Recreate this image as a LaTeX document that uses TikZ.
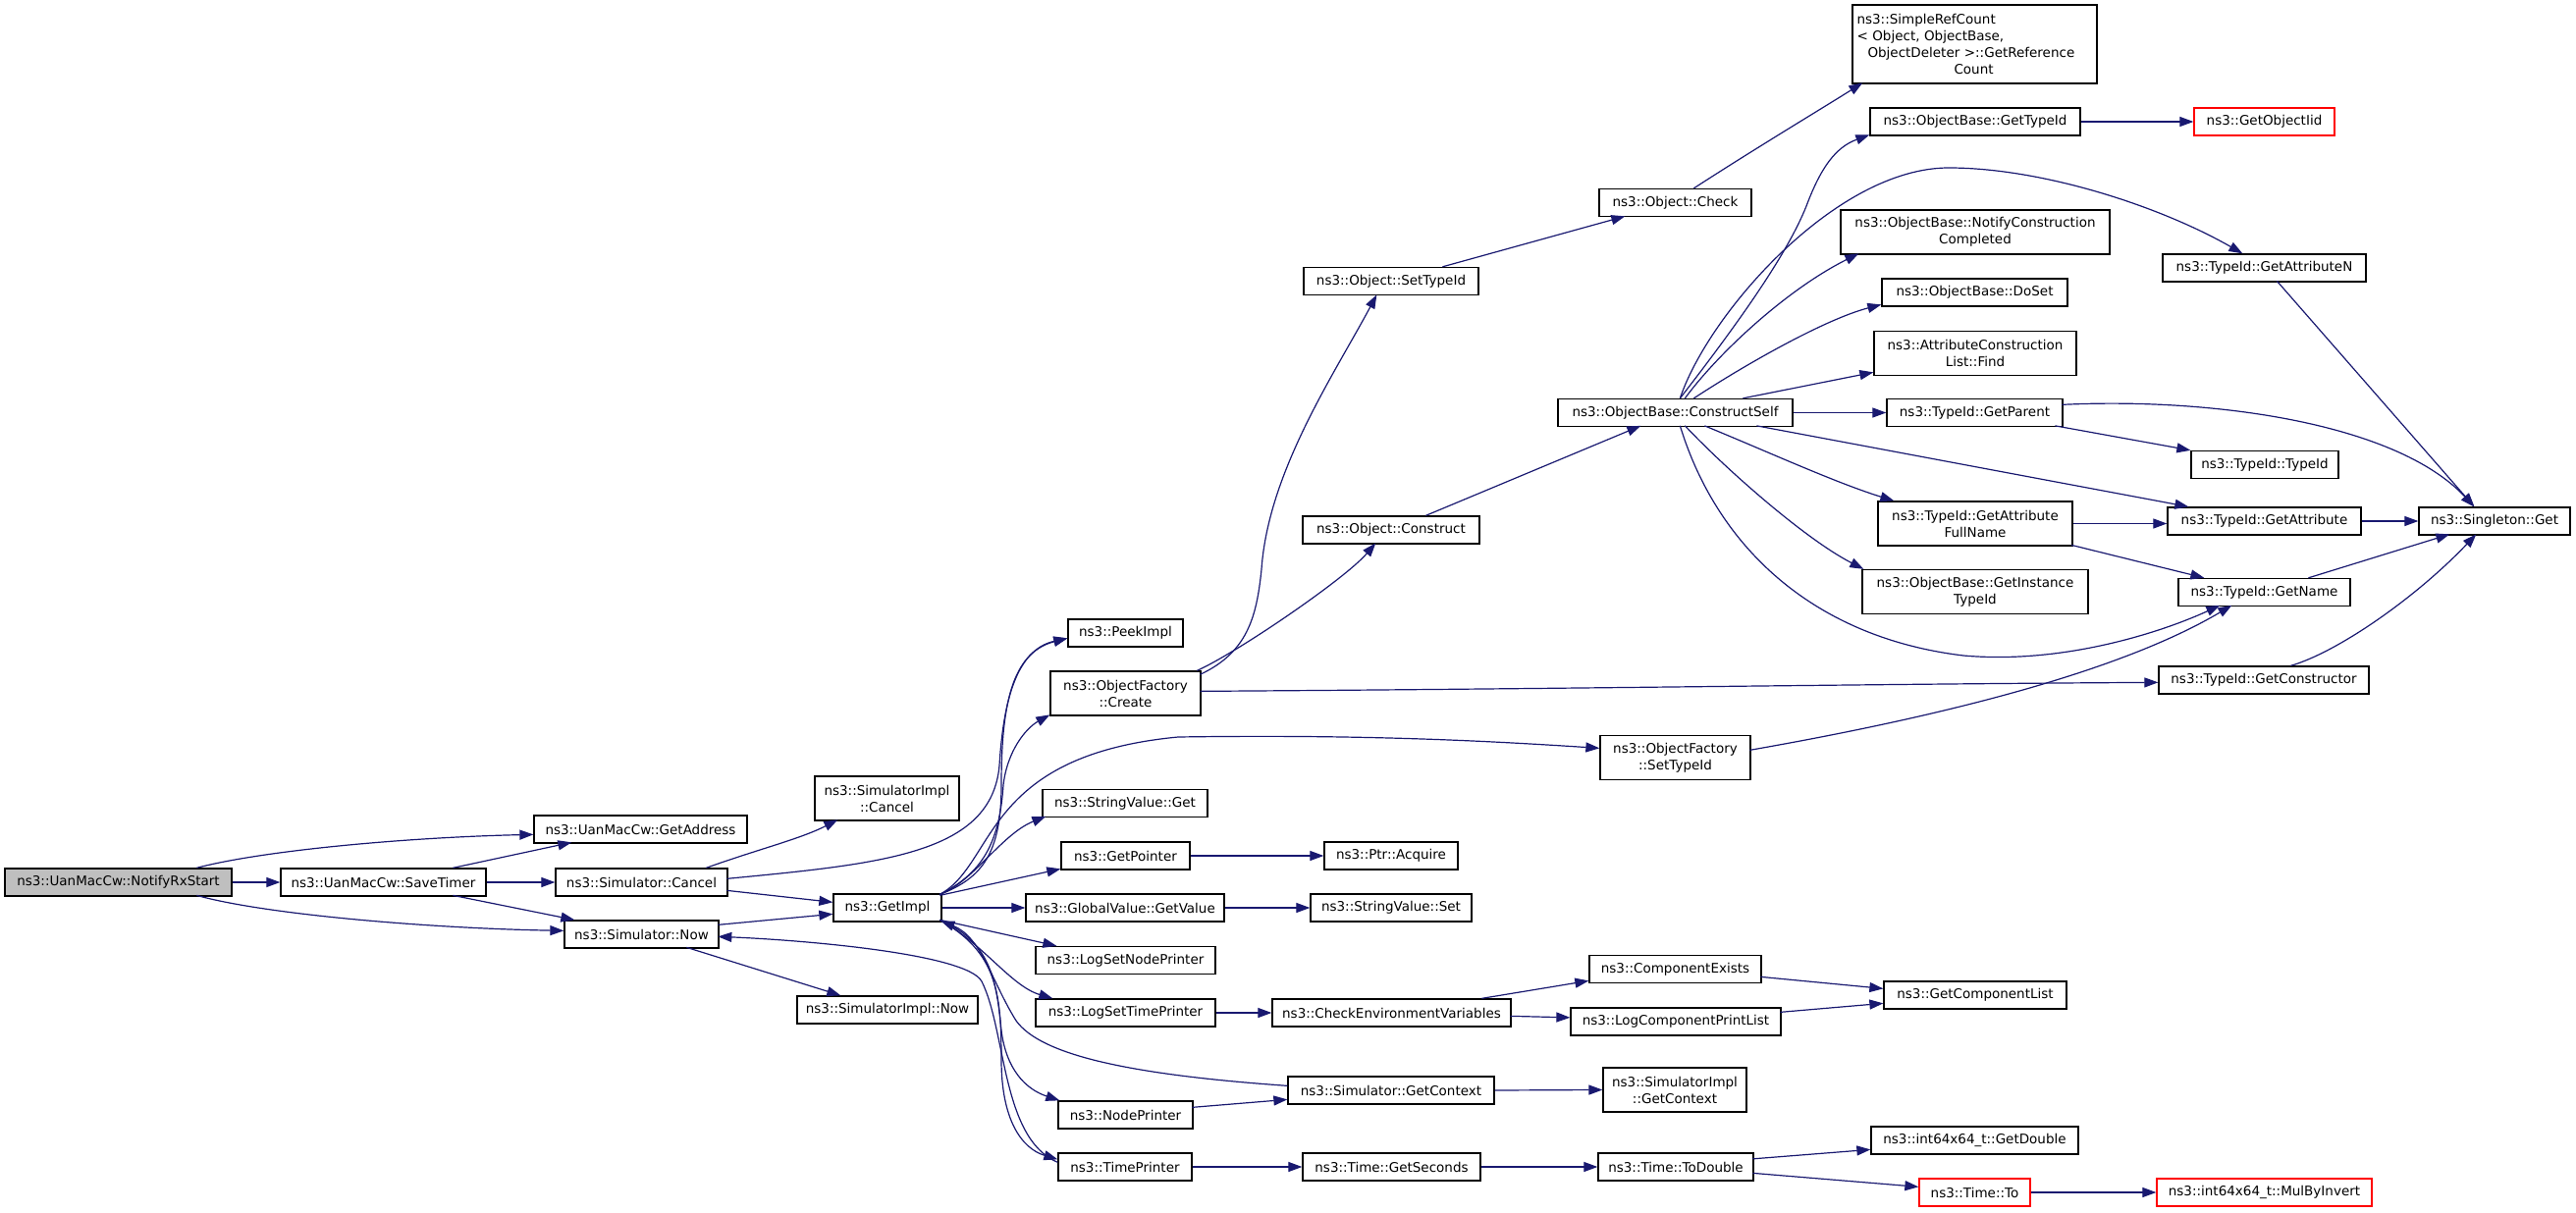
\documentclass[tikz,border=0pt]{standalone}
\usepackage{fontspec}
\setmainfont{DejaVu Sans}
\usetikzlibrary{arrows.meta}
\definecolor{edgec}{RGB}{25,25,112}
\definecolor{rootfill}{RGB}{191,191,191}
\newcommand\dxfont{\fontsize{13.5}{17}\selectfont}
\tikzset{
  box/.style={draw=black, fill=white, line width=1.3pt, inner sep=0pt, align=center, font=\dxfont},
  redbox/.style={box, draw=red},
  edge/.style={draw=edgec, line width=1.2pt, -{Triangle[length=14pt,width=10pt]}},
}
\begin{document}
\begin{tikzpicture}[x=1pt,y=-1pt]
\useasboundingbox (0,0) rectangle (2624,1236);
% nodes
\node[box, fill=rootfill, minimum width=231pt, minimum height=28pt] (NRX) at (120.5,899) {ns3::UanMacCw::NotifyRxStart};
\node[box, minimum width=217pt, minimum height=28pt] (GA) at (652.5,845) {ns3::UanMacCw::GetAddress};
\node[box, minimum width=209pt, minimum height=28pt] (ST) at (390.5,899) {ns3::UanMacCw::SaveTimer};
\node[box, minimum width=175pt, minimum height=28pt] (SC) at (653.5,899) {ns3::Simulator::Cancel};
\node[box, minimum width=157pt, minimum height=28pt] (SN) at (653.5,952) {ns3::Simulator::Now};
\node[box, minimum width=147pt, minimum height=45pt] (SIC) at (903.5,813.5) {ns3::SimulatorImpl\\::Cancel};
\node[box, minimum width=110pt, minimum height=28pt] (GI) at (904,925) {ns3::GetImpl};
\node[box, minimum width=184pt, minimum height=28pt] (SIN) at (904,1029) {ns3::SimulatorImpl::Now};
\node[box, minimum width=117pt, minimum height=28pt] (PI) at (1146.5,645) {ns3::PeekImpl};
\node[box, minimum width=153pt, minimum height=45pt] (OFC) at (1146.5,706.5) {ns3::ObjectFactory\\::Create};
\node[box, minimum width=168pt, minimum height=28pt] (SVG) at (1146,818.5) {ns3::StringValue::Get};
\node[box, minimum width=131pt, minimum height=28pt] (GP) at (1146.5,872) {ns3::GetPointer};
\node[box, minimum width=202pt, minimum height=28pt] (GV) at (1146,925) {ns3::GlobalValue::GetValue};
\node[box, minimum width=183pt, minimum height=28pt] (LNP) at (1146.5,978.5) {ns3::LogSetNodePrinter};
\node[box, minimum width=183pt, minimum height=28pt] (LTP) at (1146.5,1032) {ns3::LogSetTimePrinter};
\node[box, minimum width=137pt, minimum height=28pt] (NP) at (1146.5,1136) {ns3::NodePrinter};
\node[box, minimum width=136pt, minimum height=28pt] (TP) at (1146,1189) {ns3::TimePrinter};
\node[box, minimum width=178pt, minimum height=28pt] (OST) at (1417,286.5) {ns3::Object::SetTypeId};
\node[box, minimum width=180pt, minimum height=28pt] (OCo) at (1417,540) {ns3::Object::Construct};
\node[box, minimum width=153pt, minimum height=45pt] (OFS) at (1706.5,772) {ns3::ObjectFactory\\::SetTypeId};
\node[box, minimum width=136pt, minimum height=28pt] (PA) at (1417,872) {ns3::Ptr::Acquire};
\node[box, minimum width=164pt, minimum height=28pt] (SVS) at (1417,925) {ns3::StringValue::Set};
\node[box, minimum width=243pt, minimum height=28pt] (CEV) at (1417.5,1032) {ns3::CheckEnvironmentVariables};
\node[box, minimum width=210pt, minimum height=28pt] (SGC) at (1417,1111) {ns3::Simulator::GetContext};
\node[box, minimum width=181pt, minimum height=28pt] (TGS) at (1417.5,1189) {ns3::Time::GetSeconds};
\node[box, minimum width=155pt, minimum height=28pt] (OCh) at (1706.5,206.5) {ns3::Object::Check};
\node[box, minimum width=239pt, minimum height=28pt] (CS) at (1706.5,420.5) {ns3::ObjectBase::ConstructSelf};
\node[box, minimum width=175pt, minimum height=28pt] (CE) at (1706.5,987.5) {ns3::ComponentExists};
\node[box, minimum width=214pt, minimum height=28pt] (LCPL) at (1707,1041) {ns3::LogComponentPrintList};
\node[box, minimum width=146pt, minimum height=45pt] (SIGC) at (1706,1110.5) {ns3::SimulatorImpl\\::GetContext};
\node[box, minimum width=158pt, minimum height=28pt] (TTD) at (1707,1189) {ns3::Time::ToDouble};
\node[box, align=left, text width=240pt, inner xsep=4.5pt, minimum height=80pt] (SRC) at (2011.5,45) {ns3::SimpleRefCount\\{<} Object, ObjectBase,\\\hspace*{11pt}ObjectDeleter {>}::GetReference\\\hspace*{99pt}Count};
\node[box, minimum width=214pt, minimum height=28pt] (OBG) at (2012,124) {ns3::ObjectBase::GetTypeId};
\node[box, minimum width=274pt, minimum height=45pt] (NCC) at (2012,236.5) {ns3::ObjectBase::NotifyConstruction\\Completed};
\node[box, minimum width=189pt, minimum height=28pt] (DS) at (2011.5,298) {ns3::ObjectBase::DoSet};
\node[box, minimum width=206pt, minimum height=45pt] (ACL) at (2012,360) {ns3::AttributeConstruction\\List::Find};
\node[box, minimum width=179pt, minimum height=28pt] (GPa) at (2011.5,420.5) {ns3::TypeId::GetParent};
\node[box, minimum width=198pt, minimum height=45pt] (GAFN) at (2012,533.5) {ns3::TypeId::GetAttribute\\FullName};
\node[box, minimum width=230pt, minimum height=45pt] (GIT) at (2012,603) {ns3::ObjectBase::GetInstance\\TypeId};
\node[box, minimum width=186pt, minimum height=28pt] (GCL) at (2012,1014) {ns3::GetComponentList};
\node[box, minimum width=211pt, minimum height=28pt] (GD) at (2011.5,1162) {ns3::int64x64\_t::GetDouble};
\node[redbox, minimum width=113pt, minimum height=28pt] (TT) at (2011.5,1215) {ns3::Time::To};
\node[redbox, minimum width=143pt, minimum height=28pt] (GOI) at (2306.5,124) {ns3::GetObjectIid};
\node[box, minimum width=207pt, minimum height=28pt] (GAN) at (2306.5,273) {ns3::TypeId::GetAttributeN};
\node[box, minimum width=150pt, minimum height=28pt] (TTI) at (2307,473.5) {ns3::TypeId::TypeId};
\node[box, minimum width=197pt, minimum height=28pt] (GAt) at (2306.5,531) {ns3::TypeId::GetAttribute};
\node[box, minimum width=175pt, minimum height=28pt] (GN) at (2306.5,603.5) {ns3::TypeId::GetName};
\node[box, minimum width=214pt, minimum height=28pt] (GC) at (2306,693) {ns3::TypeId::GetConstructor};
\node[redbox, minimum width=219pt, minimum height=28pt] (MBI) at (2306.5,1215) {ns3::int64x64\_t::MulByInvert};
\node[box, minimum width=154pt, minimum height=28pt] (SG) at (2541,531) {ns3::Singleton::Get};
% edges
\draw[edge] ([shift={(196,0)}]NRX.north west) .. controls (270,866) and (420,853) .. ([shift={(0,20)}]GA.north west);
\draw[edge] (NRX.east) -- (ST.west);
\draw[edge] ([shift={(196,28)}]NRX.north west) .. controls (270,932) and (440,946) .. ([shift={(0,11)}]SN.north west);
\draw[edge] ([shift={(176,0)}]ST.north west) -- ([shift={(39,28)}]GA.north west);
\draw[edge] (ST.east) -- (SC.west);
\draw[edge] ([shift={(176,28)}]ST.north west) -- ([shift={(11,0)}]SN.north west);
\draw[edge] ([shift={(154,0)}]SC.north west) .. controls (770,866) and (815,855) .. ([shift={(24,45)}]SIC.north west);
\draw[edge] ([shift={(175,23)}]SC.north west) -- ([shift={(0,9)}]GI.north west);
\draw[edge] ([shift={(175,11)}]SC.north west) .. controls (900,880) and (1010,870) .. (1018,780) .. controls (1022,715) and (1035,662) .. ([shift={(0,20)}]PI.north west);
\draw[edge] ([shift={(109,1)}]GI.north west) .. controls (1000,895) and (1020,870) .. (1020,800) .. controls (1020,720) and (1030,665) .. ([shift={(0,20)}]PI.north west);
\draw[edge] ([shift={(109,1)}]GI.north west) .. controls (1000,890) and (1018,860) .. (1022,800) .. controls (1026,765) and (1045,742) .. ([shift={(0,45)}]OFC.north west);
\draw[edge] ([shift={(109,1)}]GI.north west) .. controls (1015,880) and (1000,770) .. (1200,751) .. controls (1400,748) and (1530,756) .. ([shift={(0,13.5)}]OFS.north west);
\draw[edge] ([shift={(109,1)}]GI.north west) .. controls (990,900) and (1020,850) .. ([shift={(4,28)}]SVG.north west);
\draw[edge] ([shift={(109,2)}]GI.north west) -- ([shift={(0,28)}]GP.north west);
\draw[edge] (GI.east) -- (GV.west);
\draw[edge] ([shift={(109,27)}]GI.north west) -- ([shift={(22,0)}]LNP.north west);
\draw[edge] ([shift={(109,27)}]GI.north west) .. controls (1000,960) and (1030,1005) .. ([shift={(18,0)}]LTP.north west);
\draw[edge] ([shift={(109,27)}]GI.north west) .. controls (1010,960) and (1015,1000) .. (1020,1050) .. controls (1025,1090) and (1045,1110) .. ([shift={(2,0)}]NP.north west);
\draw[edge] ([shift={(109,27)}]GI.north west) .. controls (1015,970) and (1020,1010) .. (1020,1080) .. controls (1020,1140) and (1040,1170) .. ([shift={(0,7)}]TP.north west);
\draw[edge] ([shift={(0,10)}]SGC.north west) .. controls (1150,1095) and (1060,1075) .. (1035,1040) .. controls (1010,1000) and (1000,955) .. ([shift={(110,28)}]GI.north west);
\draw[edge] ([shift={(0,10)}]TP.north west) .. controls (1020,1160) and (1025,1050) .. (1000,1000) .. controls (985,972) and (820,958) .. ([shift={(157,17)}]SN.north west);
\draw[edge] ([shift={(157,5)}]SN.north west) -- ([shift={(0,21)}]GI.north west);
\draw[edge] ([shift={(125,28)}]SN.north west) -- ([shift={(45,0)}]SIN.north west);
\draw[edge] (GP.east) -- (PA.west);
\draw[edge] (GV.east) -- (SVS.west);
\draw[edge] (LTP.east) -- (CEV.west);
\draw[edge] ([shift={(214,0)}]CEV.north west) -- ([shift={(0,26.5)}]CE.north west);
\draw[edge] ([shift={(243,18)}]CEV.north west) -- ([shift={(0,10.5)}]LCPL.north west);
\draw[edge] ([shift={(175,22.5)}]CE.north west) -- ([shift={(0,8)}]GCL.north west);
\draw[edge] ([shift={(214,5)}]LCPL.north west) -- ([shift={(0,23)}]GCL.north west);
\draw[edge] (SGC.east) -- (SIGC.west);
\draw[edge] ([shift={(137,7)}]NP.north west) -- ([shift={(0,24)}]SGC.north west);
\draw[edge] (TP.east) -- (TGS.west);
\draw[edge] (TGS.east) -- (TTD.west);
\draw[edge] ([shift={(158,6.5)}]TTD.north west) -- ([shift={(0,24)}]GD.north west);
\draw[edge] ([shift={(158,21)}]TTD.north west) -- ([shift={(0,9)}]TT.north west);
\draw[edge] (TT.east) -- (MBI.west);
\draw[edge] ([shift={(153,4)}]OFC.north west) .. controls (1270,665) and (1280,630) .. (1285,580) .. controls (1292,480) and (1360,380) .. ([shift={(75,28.5)}]OST.north west);
\draw[edge] ([shift={(150,0)}]OFC.north west) .. controls (1260,665) and (1370,590) .. ([shift={(75,28)}]OCo.north west);
\draw[edge] ([shift={(153,21)}]OFC.north west) .. controls (1600,702) and (1900,697) .. ([shift={(0,17)}]GC.north west);
\draw[edge] ([shift={(142,0)}]OST.north west) -- ([shift={(27,28.5)}]OCh.north west);
\draw[edge] ([shift={(97,0)}]OCh.north west) .. controls (1790,150) and (1860,108) .. ([shift={(11,80)}]SRC.north west);
\draw[edge] ([shift={(126,0)}]OCo.north west) -- ([shift={(85,28)}]CS.north west);
\draw[edge] ([shift={(125,0)}]CS.north west) .. controls (1770,330) and (1820,260) .. (1840,210) .. controls (1855,170) and (1870,150) .. ([shift={(0,28)}]OBG.north west);
\draw[edge] ([shift={(125,0)}]CS.north west) .. controls (1740,320) and (1870,171) .. (1985,171) .. controls (2080,171) and (2200,210) .. ([shift={(82,0)}]GAN.north west);
\draw[edge] ([shift={(130,0)}]CS.north west) .. controls (1750,360) and (1820,295) .. ([shift={(19,45)}]NCC.north west);
\draw[edge] ([shift={(139,0)}]CS.north west) .. controls (1780,370) and (1860,325) .. ([shift={(0,27)}]DS.north west);
\draw[edge] ([shift={(189,0)}]CS.north west) -- ([shift={(0,42.5)}]ACL.north west);
\draw[edge] (CS.east) -- (GPa.west);
\draw[edge] ([shift={(203,28)}]CS.north west) -- ([shift={(22,0)}]GAt.north west);
\draw[edge] ([shift={(150,28)}]CS.north west) .. controls (1800,460) and (1870,492) .. ([shift={(17,0)}]GAFN.north west);
\draw[edge] ([shift={(130,28)}]CS.north west) .. controls (1760,480) and (1840,550) .. ([shift={(2,0)}]GIT.north west);
\draw[edge] ([shift={(125,28)}]CS.north west) .. controls (1750,560) and (1850,650) .. (2000,668) .. controls (2100,677) and (2200,645) .. ([shift={(43,28)}]GN.north west);
\draw[edge] ([shift={(172,28)}]GPa.north west) -- (TTI.north west);
\draw[edge] ([shift={(179,6.5)}]GPa.north west) .. controls (2250,405) and (2440,430) .. ([shift={(57,0)}]SG.north west);
\draw[edge] ([shift={(117,28)}]GAN.north west) -- ([shift={(57,0)}]SG.north west);
\draw[edge] (GAFN.east) -- (GAFN.east -| GAt.west);
\draw[edge] ([shift={(197.5,45)}]GAFN.north west) -- ([shift={(27,0)}]GN.north west);
\draw[edge] (GAt.east) -- (SG.west);
\draw[edge] ([shift={(133,0)}]GN.north west) -- ([shift={(32,28)}]SG.north west);
\draw[edge] ([shift={(135,0)}]GC.north west) .. controls (2380,665) and (2460,610) .. ([shift={(59,28)}]SG.north west);
\draw[edge] ([shift={(153,15.5)}]OFS.north west) .. controls (1950,735) and (2150,690) .. ([shift={(55,28)}]GN.north west);
\draw[edge] (OBG.east) -- (GOI.west);
\end{tikzpicture}
\end{document}
